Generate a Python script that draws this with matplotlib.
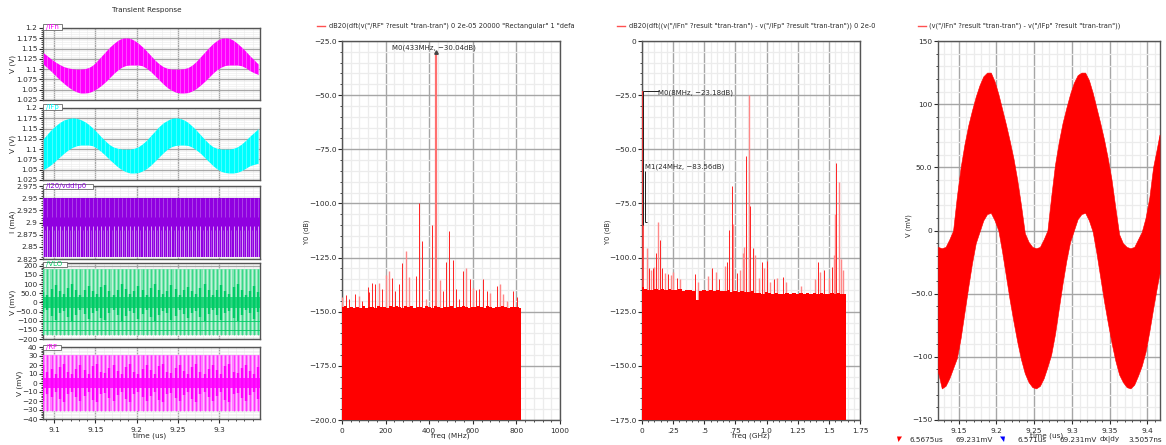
import numpy as np
import matplotlib
matplotlib.use("Agg")
import matplotlib.pyplot as plt
from matplotlib.patches import Rectangle, Polygon

W, H = 1166, 445

# ---------- transient panels (envelope values read at even steps across 9.087..9.347 us)
IFN_TOP = [1.140,1.132,1.124,1.117,1.111,1.106,1.103,1.101,1.100,1.100,1.101,1.104,1.110,1.120,1.131,1.142,1.153,1.162,1.170,1.175,1.176,1.175,1.170,1.163,1.154,1.144,1.133,1.122,1.113,1.106,1.102,1.100,1.100,1.100,1.101,1.104,1.110,1.119,1.130,1.141,1.152,1.162,1.170,1.175,1.176,1.175,1.170,1.162,1.153,1.143,1.132,1.122,1.112]
IFN_BOT = [1.112,1.103,1.094,1.084,1.074,1.065,1.057,1.050,1.045,1.042,1.042,1.043,1.047,1.053,1.060,1.069,1.079,1.089,1.098,1.105,1.109,1.110,1.110,1.110,1.108,1.102,1.094,1.084,1.074,1.064,1.055,1.049,1.044,1.042,1.042,1.043,1.047,1.053,1.061,1.070,1.080,1.090,1.099,1.105,1.109,1.110,1.110,1.110,1.108,1.103,1.096,1.091,1.087]
IFP_TOP = [1.125,1.137,1.148,1.157,1.165,1.171,1.174,1.176,1.175,1.172,1.167,1.160,1.151,1.141,1.130,1.120,1.111,1.105,1.102,1.100,1.100,1.100,1.102,1.106,1.113,1.122,1.133,1.144,1.155,1.164,1.170,1.175,1.176,1.175,1.171,1.165,1.156,1.146,1.135,1.124,1.114,1.106,1.102,1.100,1.100,1.100,1.102,1.106,1.113,1.122,1.132,1.141,1.150]
IFP_BOT = [1.050,1.056,1.063,1.072,1.081,1.090,1.098,1.104,1.108,1.110,1.110,1.110,1.108,1.102,1.094,1.085,1.075,1.066,1.057,1.050,1.045,1.042,1.042,1.043,1.047,1.053,1.061,1.071,1.081,1.091,1.100,1.106,1.109,1.110,1.110,1.109,1.105,1.098,1.090,1.080,1.070,1.060,1.052,1.046,1.043,1.042,1.042,1.044,1.048,1.054,1.060,1.063,1.066]
VDD_RANGE = [2.829, 2.950]
VLO_RANGE = [-180, 180]
VLO_CORE = [55,40,75,95,60,45,80,100,70,40,65,90,60,45,85,95,60,40,70,100,75,45,60,90,65,40,80,100,70,45,60,95,75,40,65,85,60,45,80,100,65,40,70,95,60,45,85,100,70,40,60,90,55]
RF_RANGE = [-31, 31]
RF_CORE = [20,12,16,10,18,21,12,10,16,20,14,10,19,21,12,11,17,20,13,10,18,21,12,10,16,20,14,10,19,21,12,11,17,20,13,10,18,21,12,10,16,20,14,10,19,21,12,11,17,20,13,10,18]

P1_TICKS = [1.025,1.05,1.075,1.1,1.125,1.15,1.175,1.2]
P1_LABELS = ["1.025","1.05","1.075","1.1","1.125","1.15","1.175","1.2"]
P3_TICKS = [2.825,2.85,2.875,2.9,2.925,2.95,2.975]
P3_LABELS = ["2.825","2.85","2.875","2.9","2.925","2.95","2.975"]
P4_TICKS = [-200,-150,-100,-50,0,50,100,150,200]
P4_LABELS = ["\u2212200","\u2212150","\u2212100","\u221250.0","0","50.0","100","150","200"]
P5_TICKS = [-40,-30,-20,-10,0,10,20,30,40]
P5_LABELS = ["\u221240","\u221230","\u221220","\u221210","0","10","20","30","40"]
TIME_TICKS = [9.1,9.15,9.2,9.25,9.3]
TIME_LABELS = ["9.1","9.15","9.2","9.25","9.3"]

# ---------- RF spectrum
RF_FLOOR = [-148,-147.4,-148.2,-147.6,-148.4,-147.8,-148.1,-147.5,-148.3,-147.9,-147.6,-148.2,-147.4,-148,-147.7,-148.3,-147.5,-148,-147.3,-147.8,-148.2,-147.5,-147.9,-147.4,-148.1,-147.6,-147.9,-148.3,-147.5,-147.8,-148.2,-147.4,-147.9,-148.3,-147.6,-147.9,-147.4,-148.2,-147.7,-148,-147.3,-147.9,-148.4,-147.6,-148,-147.5,-147.8,-148.2,-147.5,-147.9,-148.3,-147.6,-148,-147.4,-147.9,-148.1,-147.6,-148,-147.7,-148.5]
RF_SHARP_F = [17,32,60,93,121,125,139,153,183,231,245,260,277,338,355,368,413,462,477,492,511,524,538,555,586,616,630,648,664,709,786,801]
RF_SHARP_DB = [-142.4,-144,-141.7,-145,-138.6,-141,-136.6,-137.3,-139.4,-134.4,-140.6,-137.3,-127.5,-133.6,-100,-117.4,-110,-140.6,-127,-112.8,-126.2,-139.4,-144,-131.3,-135,-140,-139.5,-135,-140.6,-138,-140.6,-143]
RF_SOFT_F = [2,78,170,202,214,294,307,384,448,569,601,679,725,740,755]
RF_SOFT_DB = [-143,-142.6,-136.6,-133.2,-131.3,-122,-134,-144,-135.5,-129.6,-139,-141.4,-137,-142,-145]
RF_MAIN_F = [433]
RF_MAIN_DB = [-30.04]

# ---------- differential IF spectrum
IF_FLOOR = [-113.5,-114.3,-114.8,-115,-114.6,-115.2,-114.7,-115,-114.5,-115.1,-115,-114.6,-115.3,-114.8,-115.2,-115.5,-119.5,-115.4,-115,-115.6,-115.2,-115.4,-115,-115.6,-115.3,-115.1,-115.7,-115.3,-115.8,-115.4,-115.9,-116,-115.6,-116.4,-116.2,-116.7,-116.1,-116.5,-116.8,-116.2,-116.6,-116.9,-116.4,-116.8,-116.4,-116.9,-116.5,-116.8,-116.4,-117,-116.5,-116.8,-116.4,-116.7,-116.9,-116.3,-116.8,-116.4,-116.9,-116.6]
IF_SHARP_F = [.056,.086,.115,.147,.163,.211,.284,.423,.562,.615,.682,.70,.72,.76,.838,.87,.891,.96,1.003,1.06,1.134,1.41,1.46,1.525,1.56]
IF_SHARP_DB = [-104.8,-104.6,-97.7,-92,-104.8,-107.4,-109.4,-107.4,-104.8,-110,-102,-87.3,-67,-107,-53,-76,-95.4,-102,-101.5,-109.7,-109,-102,-105.9,-104.3,-56.5]
IF_SOFT_F = [.037,.07,.099,.126,.185,.23,.25,.305,.452,.532,.591,.669,.73,.789,.808,.82,.856,.91,.94,.977,1.027,1.086,1.153,1.28,1.389,1.43,1.5,1.541,1.547,1.58,1.594,1.616]
IF_SOFT_DB = [-95.4,-105.9,-104.3,-83.5,-107,-108,-106.6,-110,-111.3,-108.6,-106.6,-104,-84.4,-105.9,-97.7,-95,-25,-99,-109.4,-104.8,-111.3,-109.3,-111.3,-113,-110,-106.6,-109.3,-99,-80,-65,-100.5,-105.6]
IF_M0 = [0.008, -23.18]
IF_M1 = [0.024, -83.56]

# ---------- differential time panel
DIFF_T = [9.1225,9.1275,9.1325,9.1375,9.1425,9.1475,9.1525,9.1575,9.1625,9.1675,9.1725,9.1775,9.1825,9.1875,9.1925,9.1975,9.2025,9.2075,9.2125,9.2175,9.2225,9.2275,9.2325,9.2375,9.2425,9.2475,9.2525,9.2575,9.2625,9.2675,9.2725,9.2775,9.2825,9.2875,9.2925,9.2975,9.3025,9.3075,9.3125,9.3175,9.3225,9.3275,9.3325,9.3375,9.3425,9.3475,9.3525,9.3575,9.3625,9.3675,9.3725,9.3775,9.3825,9.3875,9.3925,9.3975,9.4025,9.4075,9.4125,9.416]
DIFF_TOP = [-13,-14,-13,-7,0,27,50,68,83,95,106,115,122,125,125,118,108,96,84,71,57,40,20,-2,-9,-13,-14,-13,-7,0,27,52,70,85,97,108,117,123,125,125,119,109,97,85,72,57,40,18,-3,-10,-13,-14,-13,-7,-1,10,26,50,65,76]
DIFF_BOT = [-112,-125,-123,-117,-109,-101,-85,-65,-45,-26,-10,-1,8,13,14,8,0,-17,-36,-55,-72,-88,-102,-113,-120,-124,-125,-123,-117,-108,-98,-82,-62,-42,-24,-9,0,9,13,14,8,-1,-18,-37,-56,-73,-89,-103,-114,-120,-124,-125,-122,-115,-107,-96,-80,-62,-45,-34]

plt.rcParams['font.family'] = 'DejaVu Sans'
FS = 5.3
TC = '#2a2a2a'
MAJ = '#a6a6a6'
MIN = '#ececec'

fig = plt.figure(figsize=(W/100, H/100), dpi=100, facecolor='white')

def axpx(x0, y0, x1, y1):
    a = fig.add_axes([x0/W, 1-y1/H, (x1-x0)/W, (y1-y0)/H])
    a.set_axisbelow(True)
    for s in a.spines.values():
        s.set_color('#555555'); s.set_linewidth(1)
    return a

def txt(x, y, s, **k):
    k.setdefault('fontsize', FS); k.setdefault('color', TC)
    k.setdefault('va', 'center'); k.setdefault('ha', 'left')
    return fig.text(x/W, 1-y/H, s, **k)

def style(a, xlim, ylim, yt, yl, ymin, xmaj, xmin, xl=None, minor_lw=.9):
    a.set_xlim(*xlim); a.set_ylim(*ylim)
    a.set_yticks(yt); a.set_yticklabels(yl)
    a.set_yticks(ymin, minor=True)
    a.set_xticks(xmaj)
    a.set_xticks(xmin, minor=True)
    if xl is None:
        a.set_xticklabels([])
        a.tick_params(axis='x', which='both', length=0)
    else:
        a.set_xticklabels(xl)
        a.tick_params(axis='x', which='major', length=3, width=.8, color=TC, pad=2.5, labelsize=FS, labelcolor=TC)
        a.tick_params(axis='x', which='minor', length=1.5, width=.6, color=TC)
    a.tick_params(axis='y', which='major', length=3, width=.8, color=TC, pad=1, labelsize=FS, labelcolor=TC)
    a.tick_params(axis='y', which='minor', length=1.5, width=.6, color=TC)
    a.grid(True, which='minor', color=MIN, lw=minor_lw)
    a.grid(True, which='major', color=MAJ, lw=1)

def tab(a, x0, x1, y0, y1, s, col):
    fig.add_artist(Rectangle((x0/W, 1-y1/H), (x1-x0)/W, (y1-y0)/H, fc='white', ec='#666666', lw=.6,
                             transform=fig.transFigure, zorder=5))
    txt(x0+2.5, (y0+y1)/2, s, color=col, fontsize=5.0, zorder=6)

txt(146.5, 10, "Transient Response", ha='center', fontsize=5.2)

XL = (9.0867, 9.349)
x_maj = TIME_TICKS
x_min = np.arange(9.09, 9.35, .01)

def time_of(arr):
    return np.linspace(9.087, 9.347, len(arr))

# --- panel 1, 2
for (y0, y1, top, bot, col, label, ytxt) in [(28, 100, IFN_TOP, IFN_BOT, '#ff00ff', '/IFn', 64),
                                             (108, 180, IFP_TOP, IFP_BOT, '#00ffff', '/IFp', 144)]:
    a = axpx(43, y0, 260, y1)
    style(a, XL, (1.025, 1.2), P1_TICKS, P1_LABELS, np.arange(1.03, 1.2, .005), x_maj, x_min, minor_lw=.45)
    t = time_of(top)
    a.fill_between(t, bot, top, color=col, lw=0, zorder=3)
    a.vlines(t, bot, top, color='white', lw=.7, alpha=.3, zorder=4)
    tab(a, 43, 62, y0-3.5, y0+1.5, label, col)
    txt(13, ytxt, "V (V)", rotation=90, ha='center')

# --- panel 3
a = axpx(43, 186, 260, 259)
style(a, XL, (2.825, 2.975), P3_TICKS, P3_LABELS, np.arange(2.83, 2.975, .005), x_maj, x_min, minor_lw=.45)
PUR = '#9000e0'
a.fill_between(XL, VDD_RANGE[0], VDD_RANGE[1], color=PUR, lw=0, zorder=3)
t3 = time_of(VLO_CORE)
a.vlines(t3, VDD_RANGE[0], 2.893, color='white', lw=.6, alpha=.75, zorder=4)
a.vlines(t3+.0025, VDD_RANGE[0], 2.885, color='white', lw=.5, alpha=.4, zorder=4)
a.vlines(t3, 2.912, VDD_RANGE[1], color='white', lw=.7, alpha=.25, zorder=4)
tab(a, 43, 93, 183.5, 188.5, "/I20/vdd!p0", PUR)
txt(13, 222, "I (mA)", rotation=90, ha='center')

# --- panel 4
a = axpx(43, 263, 260, 339)
style(a, XL, (-200, 215), P4_TICKS, P4_LABELS, np.arange(-190, 215, 10), x_maj, x_min, minor_lw=.45)
GRN = '#00cc66'
a.fill_between(XL, VLO_RANGE[0], VLO_RANGE[1], color='#7fe5b2', lw=0, zorder=3)
t4 = time_of(VLO_CORE)
a.vlines(t4+.0025, VLO_RANGE[0], VLO_RANGE[1], color='white', lw=.7, alpha=.55, zorder=4)
a.vlines(t4, VLO_RANGE[0], VLO_RANGE[1], color=GRN, lw=.5, alpha=.8, zorder=4)
core = np.array(VLO_CORE)
a.vlines(t4, -core, core, color=GRN, lw=1.7, zorder=5)
a.fill_between(XL, -28, 28, color=GRN, alpha=.75, lw=0, zorder=5)
a.axhline(-150, color=GRN, lw=.6, zorder=5)
a.axhline(-100, color=GRN, lw=.6, zorder=5)
tab(a, 43, 67, 261.5, 266.5, "/VLO", GRN)
txt(12.5, 302, "V (mV)", rotation=90, ha='center')

# --- panel 5
a = axpx(43, 347, 260, 419)
style(a, XL, (-40, 40), P5_TICKS, P5_LABELS, np.arange(-38, 40, 2), x_maj, x_min, TIME_LABELS, minor_lw=.45)
MAG = '#ff00ff'
a.fill_between(XL, RF_RANGE[0], RF_RANGE[1], color='#ff80ff', lw=0, zorder=3)
t5 = time_of(RF_CORE)
a.vlines(t5+.0025, RF_RANGE[0], RF_RANGE[1], color='white', lw=.7, alpha=.55, zorder=4)
a.vlines(t5, RF_RANGE[0], RF_RANGE[1], color=MAG, lw=.5, alpha=.85, zorder=4)
core = np.array(RF_CORE)
a.vlines(t5, -core, core, color=MAG, lw=1.7, zorder=5)
a.fill_between(XL, -6, 6, color=MAG, alpha=.85, lw=0, zorder=5)
tab(a, 43, 61, 345, 350, "/RF", MAG)
txt(19.5, 383, "V (mV)", rotation=90, ha='center')
txt(150, 436, "time (us)", ha='center')

RED = '#ff0000'

def legend(x_line, x_text, s):
    fig.add_artist(plt.Line2D([x_line/W, (x_line+8)/W], [1-26/H]*2, color='#ff5050', lw=1, transform=fig.transFigure))
    txt(x_text, 26, s, fontsize=4.75)

def spectrum(ax, floor, fmax, ybot, sharp_f, sharp_db, soft_f, soft_db):
    f = np.linspace(0, fmax, len(floor))
    ax.vlines(soft_f, ybot, soft_db, color='#ff8888', lw=1.0, zorder=2.8)
    ax.vlines(sharp_f, ybot, sharp_db, color='#ff2222', lw=.7, zorder=2.9)
    ax.fill_between(f, ybot, floor, step='mid', color=RED, lw=0, zorder=3)

# --- RF spectrum
a = axpx(342, 41, 560, 420)
yt = [-200,-175,-150,-125,-100,-75,-50,-25]
yl = ["\u2212200.0","\u2212175.0","\u2212150.0","\u2212125.0","\u2212100.0","\u221275.0","\u221250.0","\u221225.0"]
style(a, (0, 1000), (-200, -25), yt, yl, np.arange(-195, -25, 5), [0,200,400,600,800,1000],
      np.arange(0, 1000, 40), ["0","200","400","600","800","1000"])
a.vlines(RF_MAIN_F, -200, RF_MAIN_DB, color='#ff7070', lw=1.6, zorder=2.7)
spectrum(a, RF_FLOOR, 820, -200, RF_SHARP_F, RF_SHARP_DB, RF_SOFT_F, RF_SOFT_DB)
a.plot(RF_MAIN_F, RF_MAIN_DB, marker='^', ms=2.5, color='#444444', zorder=6, lw=0)
txt(391.5, 47.7, "M0(433MHz, \u221230.04dB)", zorder=7, fontsize=5.0)
legend(317, 329, 'dB20(dft(v("/RF" ?result "tran-tran") 0 2e-05 20000 "Rectangular" 1 "defa')
txt(307, 232, "Y0 (dB)", rotation=90, ha='center', fontsize=4.8)
txt(450, 436, "freq (MHz)", ha='center')

# --- IF spectrum
a = axpx(642, 41, 860, 420)
yt = [-175,-150,-125,-100,-75,-50,-25,0]
yl = ["\u2212175.0","\u2212150.0","\u2212125.0","\u2212100.0","\u221275.0","\u221250.0","\u221225.0","0"]
style(a, (0, 1.75), (-175, 0), yt, yl, np.arange(-170, 0, 5), [0,.25,.5,.75,1,1.25,1.5,1.75],
      np.arange(0, 1.75, .05), ["0",".25",".5",".75","1.0","1.25","1.5","1.75"])
a.vlines([IF_M0[0]], -175, IF_M0[1], color='#ff3333', lw=1.2, zorder=2.7)
spectrum(a, IF_FLOOR, 1.635, -175, IF_SHARP_F, IF_SHARP_DB, IF_SOFT_F, IF_SOFT_DB)
a.vlines([IF_M0[0]], -85, IF_M0[1], color='#222222', lw=.7, zorder=6)
a.vlines([IF_M1[0]], IF_M1[1], -60, color='#222222', lw=.7, zorder=6)
a.hlines([IF_M0[1]], IF_M0[0], .135, color='#222222', lw=.7, zorder=6)
a.hlines([IF_M1[1]], IF_M1[0], .04, color='#222222', lw=.7, zorder=6)
txt(658, 93, "M0(8MHz, \u221223.18dB)", zorder=7, fontsize=5.0)
txt(645, 167, "M1(24MHz, \u221283.56dB)", zorder=7, fontsize=5.0)
legend(617, 629, 'dB20(dft((v("/IFn" ?result "tran-tran") - v("/IFp" ?result "tran-tran")) 0 2e-0')
txt(608, 232, "Y0 (dB)", rotation=90, ha='center', fontsize=4.8)
txt(751, 436, "freq (GHz)", ha='center')

# --- differential voltage
a = axpx(938, 41, 1159.5, 420)
yt = [-150,-100,-50,0,50,100,150]
yl = ["\u2212150","\u2212100","\u221250.0","0","50.0","100","150"]
style(a, (9.1225, 9.416), (-150, 150), yt, yl, np.arange(-140, 150, 10), [9.15,9.2,9.25,9.3,9.35,9.4],
      np.arange(9.13, 9.416, .01), ["9.15","9.2","9.25","9.3","9.35","9.4"])
a.fill_between(DIFF_T, DIFF_BOT, DIFF_TOP, color=RED, lw=.4, zorder=3)
legend(918, 929, '(v("/IFn" ?result "tran-tran") - v("/IFp" ?result "tran-tran"))')
txt(909, 226, "V (mV)", rotation=90, ha='center', fontsize=4.8)
txt(1047, 435.5, "time (us)", ha='center')

# --- status line
fig.add_artist(Polygon([[897/W, 1-436.5/H], [902/W, 1-436.5/H], [898.5/W, 1-442/H]], closed=True, fc='red', ec='none', transform=fig.transFigure))
fig.add_artist(Polygon([[1000/W, 1-436.5/H], [1005/W, 1-436.5/H], [1004/W, 1-442/H]], closed=True, fc='blue', ec='none', transform=fig.transFigure))
for x, s in [(909, "6.5675us"), (956, "69.231mV"), (1017, "6.571us"), (1060, "69.231mV"), (1100, "dx|dy"), (1128, "3.5057ns")]:
    txt(x, 439.5, s, fontsize=5.2)

fig.savefig("out.png", dpi=100)
